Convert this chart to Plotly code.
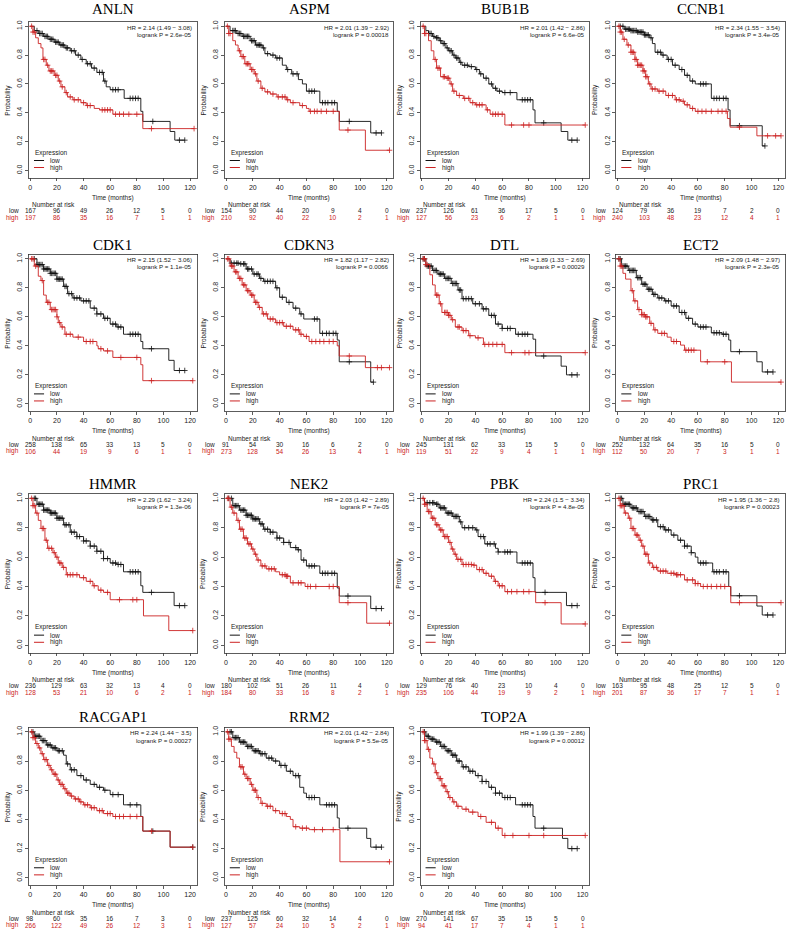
import plotly.graph_objects as go
from bisect import bisect_right

GENES = ["ANLN", "ASPM", "BUB1B", "CCNB1", "CDK1", "CDKN3", "DTL", "ECT2",
         "HMMR", "NEK2", "PBK", "PRC1", "RACGAP1", "RRM2", "TOP2A"]
RISK_TIMES = [0, 20, 40, 60, 80, 100, 120]
XTICKS = [0, 20, 40, 60, 80, 100, 120]
YTICKS = [0.0, 0.2, 0.4, 0.6, 0.8, 1.0]

HR_TEXT = {
    "ANLN": ("HR = 2.14 (1.49 − 3.08)", "logrank P = 2.6e-05"),
    "ASPM": ("HR = 2.01 (1.39 − 2.92)", "logrank P = 0.00018"),
    "BUB1B": ("HR = 2.01 (1.42 − 2.86)", "logrank P = 6.6e-05"),
    "CCNB1": ("HR = 2.34 (1.55 − 3.54)", "logrank P = 3.4e-05"),
    "CDK1": ("HR = 2.15 (1.52 − 3.06)", "logrank P = 1.1e-05"),
    "CDKN3": ("HR = 1.82 (1.17 − 2.82)", "logrank P = 0.0066"),
    "DTL": ("HR = 1.89 (1.33 − 2.69)", "logrank P = 0.00029"),
    "ECT2": ("HR = 2.09 (1.48 − 2.97)", "logrank P = 2.3e-05"),
    "HMMR": ("HR = 2.29 (1.62 − 3.24)", "logrank P = 1.3e-06"),
    "NEK2": ("HR = 2.03 (1.42 − 2.89)", "logrank P = 7e-05"),
    "PBK": ("HR = 2.24 (1.5 − 3.34)", "logrank P = 4.8e-05"),
    "PRC1": ("HR = 1.95 (1.36 − 2.8)", "logrank P = 0.00023"),
    "RACGAP1": ("HR = 2.24 (1.44 − 3.5)", "logrank P = 0.00027"),
    "RRM2": ("HR = 2.01 (1.42 − 2.84)", "logrank P = 5.5e-05"),
    "TOP2A": ("HR = 1.99 (1.39 − 2.86)", "logrank P = 0.00012"),
}

ANLN_risk_low = [167, 96, 49, 26, 12, 5, 0]
ANLN_risk_high = [197, 86, 35, 16, 7, 1, 1]
ASPM_risk_low = [154, 90, 44, 20, 9, 4, 0]
ASPM_risk_high = [210, 92, 40, 22, 10, 2, 1]
BUB1B_risk_low = [237, 126, 61, 36, 17, 5, 0]
BUB1B_risk_high = [127, 56, 23, 6, 2, 1, 1]
CCNB1_risk_low = [124, 79, 36, 19, 7, 2, 0]
CCNB1_risk_high = [240, 103, 48, 23, 12, 4, 1]
CDK1_risk_low = [258, 138, 65, 33, 13, 5, 0]
CDK1_risk_high = [106, 44, 19, 9, 6, 1, 1]
CDKN3_risk_low = [91, 54, 30, 16, 6, 2, 0]
CDKN3_risk_high = [273, 128, 54, 26, 13, 4, 1]
DTL_risk_low = [245, 131, 62, 33, 15, 5, 0]
DTL_risk_high = [119, 51, 22, 9, 4, 1, 1]
ECT2_risk_low = [252, 132, 64, 35, 16, 5, 0]
ECT2_risk_high = [112, 50, 20, 7, 3, 1, 1]
HMMR_risk_low = [236, 129, 63, 32, 13, 4, 0]
HMMR_risk_high = [128, 53, 21, 10, 6, 2, 1]
NEK2_risk_low = [180, 102, 51, 26, 11, 4, 0]
NEK2_risk_high = [184, 80, 33, 16, 8, 2, 1]
PBK_risk_low = [129, 76, 40, 23, 10, 4, 0]
PBK_risk_high = [235, 106, 44, 19, 9, 2, 1]
PRC1_risk_low = [163, 95, 48, 25, 12, 5, 0]
PRC1_risk_high = [201, 87, 36, 17, 7, 1, 1]
RACGAP1_risk_low = [98, 60, 35, 16, 7, 3, 0]
RACGAP1_risk_high = [266, 122, 49, 26, 12, 3, 1]
RRM2_risk_low = [237, 125, 60, 32, 14, 4, 0]
RRM2_risk_high = [127, 57, 24, 10, 5, 2, 1]
TOP2A_risk_low = [270, 141, 67, 35, 15, 5, 0]
TOP2A_risk_high = [94, 41, 17, 7, 4, 1, 1]

# ---- survival step curves (time in months, survival probability) ----
ANLN_low_t = [0, 3, 6, 10, 14, 18, 22, 26, 30, 34, 38, 42, 46, 50, 55, 57, 60, 70.5, 83, 84.5, 105, 108.5, 116]
ANLN_low_s = [1.0, 0.97, 0.95, 0.93, 0.91, 0.89, 0.87, 0.85, 0.83, 0.80, 0.77, 0.74, 0.71, 0.68, 0.62, 0.58, 0.56, 0.50, 0.41, 0.34, 0.27, 0.21, 0.21]
ANLN_low_c = [5, 7, 8, 9, 11, 12, 13, 15, 16, 17, 19, 20, 21, 23, 24, 25, 27, 28, 31, 33, 36, 39, 43, 45, 48, 52, 54, 56, 62, 64, 66, 75, 77, 79, 81, 92, 112, 116]
ANLN_high_t = [0, 2, 4, 6, 8, 9.5, 12, 14, 18, 21, 23, 26, 28, 32, 38, 42, 48, 52, 62, 84.5, 123]
ANLN_high_s = [1.0, 0.96, 0.92, 0.88, 0.85, 0.77, 0.73, 0.69, 0.66, 0.62, 0.58, 0.54, 0.51, 0.49, 0.47, 0.45, 0.43, 0.42, 0.39, 0.29, 0.29]
ANLN_high_c = [1, 2, 3, 10, 11, 13, 15, 16, 17, 19, 20, 22, 24, 27, 30, 33, 36, 40, 43, 45, 54, 56, 58, 60, 64, 67, 70, 74, 80, 91, 123]

ASPM_low_t = [0, 3, 8, 12, 18, 22, 27, 29, 33, 37, 42, 45, 49, 54, 57, 60, 70, 83, 84.5, 108, 116]
ASPM_low_s = [1.0, 0.97, 0.95, 0.93, 0.90, 0.87, 0.85, 0.81, 0.80, 0.78, 0.73, 0.70, 0.67, 0.63, 0.60, 0.55, 0.47, 0.41, 0.34, 0.26, 0.26]
ASPM_low_c = [5, 6, 7, 9, 10, 11, 13, 14, 15, 16, 17, 19, 20, 21, 23, 24, 25, 26, 28, 31, 35, 38, 40, 46, 50, 53, 62, 64, 66, 72, 74, 76, 79, 81, 92, 112, 116]
ASPM_high_t = [0, 2, 5, 7, 9, 11, 14, 18, 21, 23, 26, 29, 33, 38, 45, 48, 55, 60, 62, 84.5, 104, 122]
ASPM_high_s = [1.0, 0.95, 0.90, 0.87, 0.83, 0.79, 0.74, 0.70, 0.67, 0.62, 0.57, 0.545, 0.53, 0.51, 0.49, 0.47, 0.45, 0.43, 0.41, 0.28, 0.14, 0.14]
ASPM_high_c = [1, 2, 3, 10, 12, 13, 15, 16, 17, 19, 20, 22, 24, 27, 31, 35, 39, 42, 44, 46, 50, 57, 63, 66, 68, 71, 75, 80, 91, 122]

BUB1B_low_t = [0, 3, 5, 8, 10, 13, 15, 18, 20, 23, 25, 28, 30, 35, 40, 43, 46, 50, 53, 56, 60, 71, 83, 84.5, 104, 109, 116]
BUB1B_low_s = [1.0, 0.97, 0.95, 0.93, 0.92, 0.90, 0.88, 0.85, 0.83, 0.80, 0.78, 0.75, 0.73, 0.72, 0.70, 0.67, 0.64, 0.60, 0.57, 0.55, 0.54, 0.49, 0.42, 0.33, 0.27, 0.21, 0.21]
BUB1B_low_c = [5, 6, 7, 9, 11, 12, 14, 16, 17, 19, 21, 22, 24, 26, 27, 29, 32, 34, 37, 41, 44, 48, 52, 55, 58, 62, 66, 75, 77, 79, 81, 91, 112, 116]
BUB1B_high_t = [0, 2, 5, 7, 9, 11, 14, 18, 21, 23, 26, 31, 36, 40, 48, 51, 62, 122]
BUB1B_high_s = [1.0, 0.95, 0.90, 0.83, 0.77, 0.71, 0.65, 0.64, 0.60, 0.55, 0.52, 0.50, 0.47, 0.455, 0.42, 0.39, 0.315, 0.315]
BUB1B_high_c = [1, 2, 3, 10, 12, 13, 16, 17, 19, 20, 22, 24, 28, 32, 35, 38, 41, 43, 45, 49, 53, 55, 57, 60, 67, 76, 80, 122]

CCNB1_low_t = [0, 5, 10, 15, 20, 24, 26, 28, 33, 37, 41, 46, 50, 54, 58, 70, 82.5, 84, 108, 110]
CCNB1_low_s = [1.0, 0.98, 0.97, 0.96, 0.94, 0.92, 0.88, 0.82, 0.80, 0.77, 0.73, 0.70, 0.66, 0.62, 0.60, 0.50, 0.42, 0.31, 0.17, 0.17]
CCNB1_low_c = [2, 4, 6, 7, 8, 9, 10, 11, 12, 13, 14, 15, 16, 17, 18, 19, 20, 21, 22, 23, 25, 30, 32, 34, 38, 40, 43, 48, 52, 56, 62, 64, 66, 72, 74, 76, 79, 81, 91, 110]
CCNB1_high_t = [0, 2, 4, 7, 10, 13, 15, 19, 21, 23, 25, 30, 36, 43, 47, 50, 54, 58, 82, 84, 104, 122]
CCNB1_high_s = [1.0, 0.96, 0.91, 0.87, 0.82, 0.77, 0.73, 0.69, 0.65, 0.60, 0.565, 0.55, 0.52, 0.49, 0.48, 0.455, 0.43, 0.41, 0.36, 0.30, 0.24, 0.24]
CCNB1_high_c = [1, 2, 3, 5, 8, 10, 11, 12, 13, 14, 15, 16, 17, 18, 19, 20, 21, 22, 24, 26, 28, 31, 34, 38, 41, 44, 46, 49, 52, 56, 60, 63, 66, 70, 75, 78, 81, 91, 112, 118, 122]

CDK1_low_t = [0, 5, 10, 15, 20, 25, 28, 32, 38, 45, 50, 55, 60, 65, 70, 83, 84.5, 104, 108, 116]
CDK1_low_s = [1.0, 0.96, 0.93, 0.90, 0.86, 0.81, 0.76, 0.73, 0.71, 0.66, 0.62, 0.59, 0.55, 0.53, 0.48, 0.43, 0.38, 0.30, 0.23, 0.23]
CDK1_low_c = [3, 5, 6, 7, 8, 9, 10, 11, 12, 13, 14, 15, 16, 17, 18, 19, 20, 21, 22, 23, 24, 26, 27, 29, 31, 33, 35, 37, 40, 42, 44, 48, 50, 53, 56, 58, 62, 64, 66, 68, 75, 77, 79, 81, 91, 112, 116]
CDK1_high_t = [0, 3, 6, 8, 10, 12, 15, 20, 21, 23, 26, 32, 40, 50, 51, 55, 62, 83, 84.5, 122]
CDK1_high_s = [1.0, 0.95, 0.88, 0.85, 0.75, 0.70, 0.65, 0.60, 0.56, 0.53, 0.48, 0.46, 0.43, 0.40, 0.38, 0.365, 0.32, 0.27, 0.16, 0.16]
CDK1_high_c = [1, 2, 4, 9, 13, 14, 16, 17, 18, 19, 20, 22, 24, 27, 30, 36, 42, 45, 47, 53, 58, 68, 80, 91, 122]

CDKN3_low_t = [0, 3, 10, 15, 20, 25, 28, 37, 40, 45, 50, 55, 58, 70, 83, 84.5, 108, 110]
CDKN3_low_s = [1.0, 0.97, 0.965, 0.93, 0.895, 0.865, 0.845, 0.80, 0.735, 0.70, 0.66, 0.62, 0.585, 0.486, 0.44, 0.29, 0.15, 0.15]
CDKN3_low_c = [4, 6, 8, 9, 11, 13, 14, 16, 17, 19, 21, 23, 24, 26, 29, 31, 33, 35, 38, 42, 47, 52, 56, 66, 68, 72, 75, 77, 80, 82, 92, 110]
CDKN3_high_t = [0, 3, 6, 9, 12, 15, 18, 21, 24, 27, 31, 37, 43, 50, 55, 58, 62, 83, 84.5, 104, 122]
CDKN3_high_s = [1.0, 0.95, 0.91, 0.865, 0.82, 0.78, 0.75, 0.70, 0.665, 0.62, 0.585, 0.56, 0.535, 0.51, 0.48, 0.465, 0.43, 0.40, 0.33, 0.25, 0.25]
CDKN3_high_c = [1, 2, 4, 5, 7, 8, 10, 11, 13, 14, 16, 17, 19, 20, 22, 23, 25, 28, 30, 33, 35, 38, 40, 42, 45, 48, 52, 54, 56, 60, 64, 67, 70, 73, 77, 80, 92, 113, 116, 122]

DTL_low_t = [0, 3, 8, 12, 17, 22, 27, 30, 38, 45, 50, 55, 60, 70, 83, 85, 104, 108, 116]
DTL_low_s = [1.0, 0.95, 0.92, 0.895, 0.865, 0.83, 0.785, 0.725, 0.69, 0.655, 0.61, 0.55, 0.52, 0.48, 0.446, 0.33, 0.26, 0.20, 0.20]
DTL_low_c = [1, 2, 4, 5, 6, 7, 9, 10, 11, 13, 14, 15, 16, 18, 19, 20, 21, 23, 24, 25, 26, 28, 29, 31, 33, 35, 37, 40, 43, 46, 48, 52, 54, 57, 60, 64, 66, 72, 75, 77, 79, 91, 112, 116]
DTL_high_t = [0, 3, 6, 8, 10, 13, 15, 20, 22, 25, 30, 35, 40, 46, 62, 122]
DTL_high_s = [1.0, 0.96, 0.89, 0.82, 0.75, 0.69, 0.63, 0.61, 0.58, 0.53, 0.505, 0.47, 0.455, 0.41, 0.353, 0.353]
DTL_high_c = [1, 2, 3, 4, 11, 12, 14, 17, 18, 19, 20, 21, 23, 27, 28, 31, 33, 36, 42, 47, 50, 53, 56, 60, 67, 77, 80, 122]

ECT2_low_t = [0, 3, 8, 14, 18, 22, 26, 30, 35, 40, 46, 51, 56, 60, 70, 78, 83, 84.5, 104, 108, 116]
ECT2_low_s = [1.0, 0.95, 0.92, 0.87, 0.825, 0.79, 0.755, 0.73, 0.71, 0.675, 0.63, 0.59, 0.55, 0.53, 0.49, 0.48, 0.44, 0.36, 0.29, 0.22, 0.22]
ECT2_low_c = [1, 2, 4, 5, 6, 7, 9, 10, 11, 12, 13, 15, 16, 17, 19, 20, 21, 23, 24, 25, 27, 28, 31, 33, 36, 38, 42, 44, 48, 50, 53, 58, 62, 64, 66, 72, 74, 76, 79, 81, 91, 112, 116]
ECT2_high_t = [0, 2, 4, 6, 10, 12, 15, 18, 21, 24, 27, 30, 37, 40, 47, 50, 62, 85, 122]
ECT2_high_s = [1.0, 0.95, 0.90, 0.86, 0.78, 0.71, 0.65, 0.615, 0.60, 0.555, 0.51, 0.486, 0.46, 0.43, 0.405, 0.37, 0.29, 0.15, 0.15]
ECT2_high_c = [1, 2, 3, 11, 13, 16, 18, 19, 20, 21, 22, 25, 28, 33, 35, 42, 44, 51, 53, 55, 57, 67, 80, 122]

HMMR_low_t = [0, 5, 10, 15, 20, 25, 30, 35, 40, 45, 50, 55, 60, 65, 70, 83, 84.5, 108, 116]
HMMR_low_s = [1.0, 0.96, 0.92, 0.90, 0.865, 0.82, 0.77, 0.74, 0.71, 0.675, 0.64, 0.59, 0.56, 0.55, 0.50, 0.405, 0.36, 0.27, 0.27]
HMMR_low_c = [3, 4, 6, 7, 8, 9, 10, 11, 12, 13, 14, 15, 16, 17, 18, 19, 20, 21, 22, 23, 24, 26, 27, 29, 31, 33, 35, 37, 40, 42, 45, 48, 50, 53, 55, 58, 62, 64, 66, 68, 75, 77, 79, 81, 91, 112, 116]
HMMR_high_t = [0, 2, 4, 6, 8, 11, 13, 17, 19, 21, 24, 27, 37, 42, 47, 51, 55, 60, 85, 104, 122]
HMMR_high_s = [1.0, 0.95, 0.90, 0.85, 0.795, 0.715, 0.66, 0.63, 0.60, 0.56, 0.53, 0.48, 0.46, 0.435, 0.405, 0.375, 0.36, 0.31, 0.20, 0.10, 0.10]
HMMR_high_c = [1, 2, 3, 5, 9, 10, 12, 14, 16, 18, 20, 22, 23, 25, 28, 30, 32, 35, 40, 45, 48, 53, 58, 67, 77, 80, 122]

NEK2_low_t = [0, 5, 10, 15, 20, 25, 28, 33, 38, 43, 48, 53, 56, 60, 70, 83, 84.5, 108, 116]
NEK2_low_s = [1.0, 0.95, 0.92, 0.885, 0.86, 0.826, 0.79, 0.77, 0.73, 0.70, 0.665, 0.65, 0.58, 0.54, 0.49, 0.39, 0.335, 0.25, 0.25]
NEK2_low_c = [2, 4, 6, 7, 8, 9, 11, 12, 13, 14, 15, 16, 17, 18, 19, 20, 21, 22, 23, 24, 26, 27, 29, 31, 33, 35, 38, 40, 43, 47, 52, 54, 58, 62, 64, 66, 72, 74, 76, 79, 81, 91, 112, 116]
NEK2_high_t = [0, 3, 5, 8, 10, 13, 16, 19, 21, 23, 26, 30, 37, 40, 45, 48, 59, 84.5, 105, 122]
NEK2_high_s = [1.0, 0.94, 0.90, 0.85, 0.79, 0.73, 0.69, 0.655, 0.62, 0.58, 0.54, 0.52, 0.50, 0.48, 0.47, 0.425, 0.40, 0.29, 0.15, 0.15]
NEK2_high_c = [1, 2, 4, 6, 9, 11, 12, 14, 15, 17, 18, 20, 22, 24, 27, 29, 32, 34, 36, 42, 44, 45, 46, 50, 54, 56, 61, 63, 67, 77, 80, 91, 122]

PBK_low_t = [0, 2, 10, 13, 18, 23, 28, 30, 40, 42, 47, 55, 57, 71, 83, 84.5, 108, 116]
PBK_low_s = [1.0, 0.97, 0.96, 0.935, 0.90, 0.877, 0.84, 0.80, 0.785, 0.74, 0.69, 0.66, 0.635, 0.56, 0.46, 0.36, 0.27, 0.27]
PBK_low_c = [4, 6, 8, 9, 11, 12, 14, 15, 16, 17, 19, 20, 21, 22, 24, 25, 26, 27, 29, 32, 35, 38, 41, 44, 46, 49, 51, 54, 57, 62, 64, 66, 75, 77, 79, 81, 92, 112, 116]
PBK_high_t = [0, 2, 4, 7, 10, 13, 16, 20, 22, 24, 26, 30, 38, 41, 46, 50, 54, 57, 62, 85, 104, 122]
PBK_high_s = [1.0, 0.96, 0.91, 0.865, 0.82, 0.785, 0.74, 0.70, 0.655, 0.62, 0.585, 0.55, 0.545, 0.515, 0.49, 0.47, 0.435, 0.405, 0.365, 0.29, 0.145, 0.145]
PBK_high_c = [1, 2, 3, 5, 6, 8, 9, 11, 12, 14, 15, 17, 18, 19, 21, 23, 25, 27, 29, 31, 33, 35, 37, 39, 43, 45, 48, 52, 55, 58, 60, 64, 67, 71, 76, 80, 92, 122]

PRC1_low_t = [0, 4, 10, 15, 20, 25, 30, 35, 40, 45, 50, 55, 58, 60, 71, 83, 84.5, 104, 108, 116]
PRC1_low_s = [1.0, 0.96, 0.935, 0.91, 0.877, 0.853, 0.807, 0.785, 0.75, 0.715, 0.675, 0.63, 0.60, 0.56, 0.50, 0.40, 0.337, 0.267, 0.206, 0.206]
PRC1_low_c = [2, 3, 5, 6, 7, 8, 9, 11, 12, 13, 14, 16, 17, 18, 19, 21, 22, 23, 24, 26, 27, 29, 32, 34, 36, 38, 42, 47, 50, 52, 55, 62, 64, 66, 72, 74, 76, 79, 81, 91, 112, 116]
PRC1_high_t = [0, 2, 5, 8, 10, 13, 16, 18, 20, 23, 26, 30, 37, 43, 50, 58, 62, 84.5, 122]
PRC1_high_s = [1.0, 0.95, 0.90, 0.865, 0.795, 0.75, 0.715, 0.675, 0.62, 0.56, 0.53, 0.505, 0.49, 0.48, 0.445, 0.42, 0.40, 0.29, 0.29]
PRC1_high_c = [1, 2, 3, 4, 6, 9, 11, 12, 14, 15, 17, 19, 21, 22, 24, 27, 29, 32, 34, 36, 40, 42, 44, 45, 47, 52, 56, 58, 60, 64, 67, 70, 74, 77, 80, 91, 122]

RACGAP1_low_t = [0, 3, 8, 12, 16, 20, 25, 27, 30, 35, 40, 45, 50, 55, 60, 70, 83, 84.5, 105, 122]
RACGAP1_low_s = [1.0, 0.97, 0.94, 0.91, 0.89, 0.87, 0.84, 0.78, 0.74, 0.70, 0.67, 0.64, 0.62, 0.60, 0.57, 0.50, 0.42, 0.32, 0.21, 0.21]
RACGAP1_low_c = [2, 4, 5, 6, 7, 9, 10, 11, 13, 14, 15, 17, 18, 19, 21, 22, 24, 28, 31, 33, 38, 42, 48, 52, 56, 62, 66, 75, 80, 92, 122]
RACGAP1_high_t = [0, 2, 4, 6, 8, 10, 13, 15, 17, 20, 22, 25, 27, 30, 33, 37, 40, 45, 50, 55, 62, 84.5, 105, 122]
RACGAP1_high_s = [1.0, 0.96, 0.92, 0.89, 0.85, 0.81, 0.77, 0.74, 0.71, 0.67, 0.64, 0.61, 0.58, 0.56, 0.54, 0.52, 0.50, 0.48, 0.46, 0.44, 0.42, 0.32, 0.21, 0.21]
RACGAP1_high_c = [1, 2, 3, 5, 7, 9, 11, 12, 14, 16, 18, 19, 21, 23, 24, 26, 28, 29, 31, 34, 36, 38, 41, 43, 46, 48, 52, 54, 58, 60, 64, 67, 70, 75, 80, 91, 122]

RRM2_low_t = [0, 5, 10, 15, 20, 25, 30, 35, 40, 45, 50, 55, 58, 60, 70, 83, 84.5, 105, 108, 116]
RRM2_low_s = [1.0, 0.96, 0.93, 0.90, 0.87, 0.85, 0.82, 0.80, 0.77, 0.73, 0.70, 0.62, 0.58, 0.55, 0.50, 0.41, 0.34, 0.27, 0.21, 0.21]
RRM2_low_c = [3, 4, 6, 7, 8, 9, 11, 12, 13, 14, 16, 17, 18, 19, 21, 22, 23, 24, 26, 27, 29, 32, 34, 37, 41, 44, 48, 52, 54, 62, 64, 66, 75, 77, 79, 81, 91, 112, 116]
RRM2_high_t = [0, 2, 4, 6, 8, 10, 13, 15, 18, 20, 23, 26, 30, 35, 40, 45, 48, 50, 55, 62, 85, 122]
RRM2_high_s = [1.0, 0.95, 0.90, 0.86, 0.82, 0.76, 0.71, 0.68, 0.64, 0.60, 0.55, 0.51, 0.49, 0.46, 0.44, 0.42, 0.40, 0.35, 0.34, 0.33, 0.11, 0.11]
RRM2_high_c = [1, 2, 3, 11, 12, 14, 16, 17, 19, 21, 22, 24, 27, 31, 33, 37, 42, 44, 52, 57, 60, 66, 72, 80, 122]

TOP2A_low_t = [0, 3, 6, 10, 14, 18, 22, 26, 30, 35, 40, 45, 50, 55, 60, 70, 83, 84.5, 105, 109, 116]
TOP2A_low_s = [1.0, 0.97, 0.95, 0.93, 0.90, 0.87, 0.84, 0.80, 0.76, 0.73, 0.70, 0.66, 0.62, 0.58, 0.55, 0.50, 0.42, 0.34, 0.27, 0.20, 0.20]
TOP2A_low_c = [2, 4, 5, 7, 8, 9, 11, 12, 13, 15, 16, 17, 19, 20, 21, 23, 24, 25, 27, 28, 31, 33, 36, 38, 42, 45, 48, 52, 55, 58, 62, 64, 66, 75, 77, 79, 81, 91, 112, 116]
TOP2A_high_t = [0, 2, 4, 6, 8, 10, 12, 15, 18, 20, 23, 26, 30, 35, 42, 48, 55, 60, 122]
TOP2A_high_s = [1.0, 0.94, 0.88, 0.82, 0.78, 0.72, 0.68, 0.63, 0.59, 0.55, 0.52, 0.49, 0.47, 0.45, 0.42, 0.38, 0.34, 0.29, 0.29]
TOP2A_high_c = [1, 2, 3, 5, 9, 11, 13, 14, 16, 17, 19, 21, 24, 27, 33, 38, 44, 52, 57, 62, 68, 80, 91, 122]

# ---- layout geometry (pixels) ----
W, H = 793, 937
COL_X = [(28, 196), (224, 393), (420, 589), (616, 785)]
ROW_Y = [(20, 176), (253, 410), (493, 652), (727, 885)]
TITLE_Y = [7, 244, 483, 717]
BLACK = "#111111"
RED = "#cc2222"
SANS = "Liberation Sans, Arial, sans-serif"
SERIF = "Liberation Serif, Times New Roman, serif"


def px(x):
    return x / W


def py(y):
    return 1 - y / H


def surv_at(ts, ss, t):
    i = bisect_right(ts, t) - 1
    return ss[max(i, 0)]


fig = go.Figure()
layout = {}
annotations = []
shapes = []
G = globals()

for i, g in enumerate(GENES):
    n = i + 1
    r, c = divmod(i, 4)
    sfx = "" if n == 1 else str(n)
    xa, ya = "x" + sfx, "y" + sfx
    xl, xr = COL_X[c]
    yt, yb = ROW_Y[r]

    for grp, col in (("low", BLACK), ("high", RED)):
        ts = G[f"{g}_{grp}_t"]
        ss = G[f"{g}_{grp}_s"]
        cs = G[f"{g}_{grp}_c"]
        fig.add_trace(go.Scatter(x=ts, y=ss, mode="lines", line=dict(color=col, width=0.9, shape="hv"),
                                 xaxis=xa, yaxis=ya, showlegend=False, hoverinfo="skip"))
        fig.add_trace(go.Scatter(x=cs, y=[surv_at(ts, ss, t) for t in cs], mode="markers",
                                 marker=dict(symbol="cross-thin", size=4, line=dict(color=col, width=0.8)),
                                 xaxis=xa, yaxis=ya, showlegend=False, hoverinfo="skip", cliponaxis=False))

    axis_common = dict(showline=True, mirror=True, linecolor="#333333", linewidth=0.8, showgrid=False,
                       zeroline=False, ticks="outside", ticklen=3, tickwidth=0.8, tickcolor="#333333",
                       tickfont=dict(size=7, family=SANS, color="#222222"), fixedrange=True)
    layout["xaxis" + sfx] = dict(domain=[px(xl), px(xr)], range=[-1, 125], anchor=ya,
                                 tickvals=XTICKS, **axis_common)
    layout["yaxis" + sfx] = dict(domain=[py(yb), py(yt)], range=[-0.05, 1.03], anchor=xa,
                                 tickvals=YTICKS, ticktext=[f"{v:.1f}" for v in YTICKS],
                                 tickangle=-90, **axis_common)

    annotations.append(dict(text=g, x=px((xl + xr) / 2), y=py(TITLE_Y[r]), xref="paper", yref="paper",
                            showarrow=False, font=dict(family=SERIF, size=15, color="black"),
                            xanchor="center", yanchor="middle"))
    annotations.append(dict(text="Probability", x=px(xl - 21), y=py((yt + yb) / 2), xref="paper", yref="paper",
                            showarrow=False, textangle=-90, font=dict(family=SANS, size=6.5, color="#222222"),
                            xanchor="center", yanchor="middle"))
    annotations.append(dict(text="Time (months)", x=px((xl + xr) / 2), y=py(yb + 20), xref="paper", yref="paper",
                            showarrow=False, font=dict(family=SANS, size=6.5, color="#222222"),
                            xanchor="center", yanchor="middle"))
    hr1, hr2 = HR_TEXT[g]
    for txt, yy in ((hr1, 0.965), (hr2, 0.92)):
        annotations.append(dict(text=txt, x=0.985, y=yy, xref=xa + " domain", yref=ya + " domain",
                                showarrow=False, font=dict(family=SANS, size=6.2, color="#222222"),
                                xanchor="right", yanchor="middle"))
    annotations.append(dict(text="Expression", x=0.025, y=0.16, xref=xa + " domain", yref=ya + " domain",
                            showarrow=False, font=dict(family=SANS, size=6.5, color="#222222"),
                            xanchor="left", yanchor="middle"))
    for lab, col, yy in (("low", BLACK, 0.11), ("high", RED, 0.065)):
        shapes.append(dict(type="line", xref=xa + " domain", yref=ya + " domain", x0=0.03, x1=0.09,
                           y0=yy, y1=yy, line=dict(color=col, width=1)))
        annotations.append(dict(text=lab, x=0.115, y=yy, xref=xa + " domain", yref=ya + " domain",
                                showarrow=False, font=dict(family=SANS, size=6.5, color="#222222"),
                                xanchor="left", yanchor="middle"))
    annotations.append(dict(text="Number at risk", x=px(xl + 1), y=py(yb + 27), xref="paper", yref="paper",
                            showarrow=False, font=dict(family=SANS, size=6.5, color="#222222"),
                            xanchor="left", yanchor="middle"))
    for lab, col, dy in (("low", "#222222", 33), ("high", RED, 40)):
        annotations.append(dict(text=lab, x=px(xl - 8), y=py(yb + dy), xref="paper", yref="paper",
                                showarrow=False, font=dict(family=SANS, size=6.5, color=col),
                                xanchor="right", yanchor="middle"))
        vals = G[f"{g}_risk_{lab}"]
        for t, v in zip(RISK_TIMES, vals):
            annotations.append(dict(text=str(v), x=t, y=py(yb + dy), xref=xa, yref="paper",
                                    showarrow=False, font=dict(family=SANS, size=6.5, color=col),
                                    xanchor="center", yanchor="middle"))

fig.update_layout(width=W, height=H, autosize=False, margin=dict(l=0, r=0, t=0, b=0),
                  paper_bgcolor="white", plot_bgcolor="white", showlegend=False, hovermode=False,
                  annotations=annotations, shapes=shapes, **layout)
fig.write_html("out.html", config={"displayModeBar": False, "staticPlot": True},
               post_script="document.body.style.margin='0';document.body.style.padding='0';"
                           "document.documentElement.style.overflow='hidden';")
